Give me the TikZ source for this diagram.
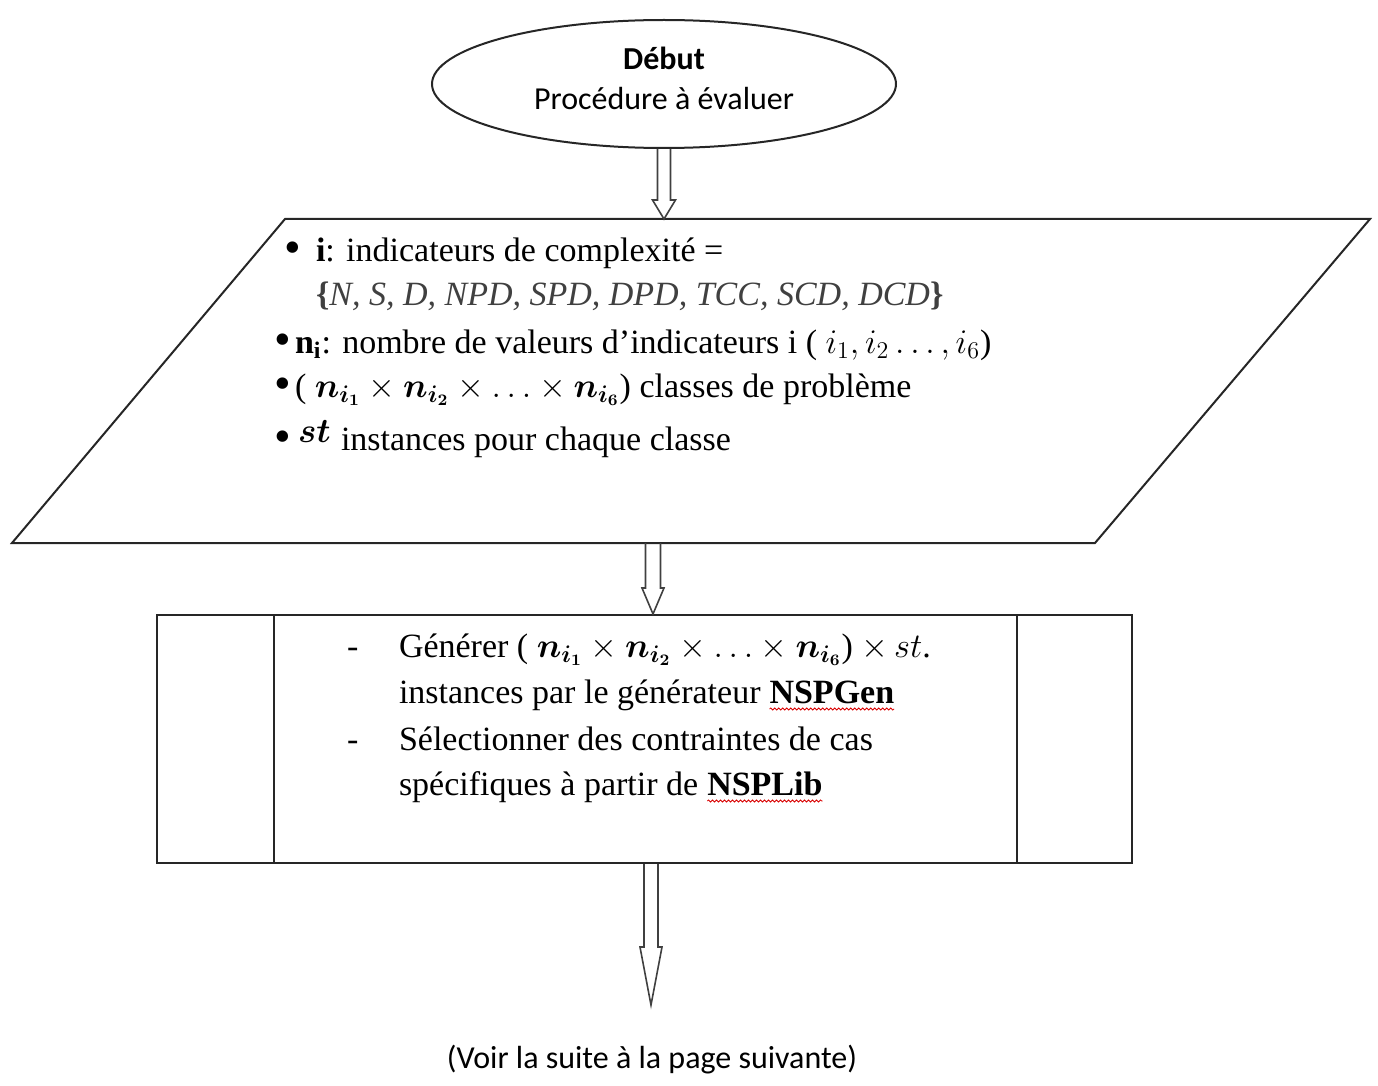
\documentclass[tikz,border=0pt]{standalone}
\usepackage{amsmath,bm}
\usepackage{fontspec}
\setmainfont{Liberation Serif}
\newfontfamily\calib{Carlito}
\usetikzlibrary{shapes.geometric,calc,decorations.pathmorphing}

\newcommand\bodysize{\fontsize{17}{20}\selectfont}
\newcommand\labelsize{\calib\fontsize{16}{19}\selectfont}
\newcommand\bul{{\fontsize{21}{20}\selectfont\textbf{•}}}

% hollow block arrow: start, tip, shaft half width, head half width, head length
\newcommand\hollowarrow[5]{%
  \draw[blockarrow] ($(#1)+(-#3,0)$) -- ($(#2)+(-#3,-#5)$) -- ($(#2)+(-#4,-#5)$)
    -- (#2) -- ($(#2)+(#4,-#5)$) -- ($(#2)+(#3,-#5)$) -- ($(#1)+(#3,0)$);}

\begin{document}
\begin{tikzpicture}[x=0.5pt,y=-0.5pt,
  outline/.style={draw=black!85, line width=1pt},
  blockarrow/.style={draw=black!75, line width=0.8pt, line join=miter},
  txt/.style={anchor=base west, inner sep=0pt, outer sep=0pt, font=\bodysize},
  spellwave/.style={draw=red!85!black, line width=0.4pt, decorate,
    decoration={snake, amplitude=0.5pt, segment length=2pt}}]
\useasboundingbox (0,0) rectangle (1378,1086);

% start terminal
\node[ellipse, outline, minimum width=232pt, minimum height=64pt, inner sep=0pt] (start) at (664,84) {};
\node[anchor=base, inner sep=0pt, font=\labelsize\bfseries] (debut) at (664,70) {Début};
\node[anchor=base, inner sep=0pt, font=\labelsize] (proc) at (664,110) {Procédure à évaluer};

% input data (parallelogram)
\coordinate (ptl) at (285,219);
\coordinate (ptr) at (1370,219);
\coordinate (pbr) at (1095,543);
\coordinate (pbl) at (12,543);
\draw[outline] (ptl) -- (ptr) -- (pbr) -- (pbl) -- cycle;

\node[txt] (b1) at (285,262) {\bul};
\node[txt] (l1) at (316,262) {\textbf{i}: indicateurs de complexité =};
\node[txt, text=black!75] (l2) at (316,306)
  {\textbf{\{}\textit{N, S, D, NPD, SPD, DPD, TCC, SCD, DCD}\textbf{\}}};
\node[txt] (b3) at (275,353) {\bul};
\node[txt] (l3) at (295,353) {\textbf{n\textsubscript{i}}: nombre de valeurs d’indicateurs i ( $i_1, i_2 \ldots, i_6$)};
\node[txt] (b4) at (275,397) {\bul};
\node[txt] (l4) at (295,397) {( $\bm{n_{i_1}} \times \bm{n_{i_2}} \times \ldots \times \bm{n_{i_6}}$) classes de problème};
\node[txt] (b5) at (275,450) {\bul};
\node[txt] (st1) at (298,442) {$\bm{st}$};
\node[txt] (l5) at (341,450) {instances pour chaque classe};

% process box
\node[rectangle, outline, minimum width=487.5pt, minimum height=124pt, inner sep=0pt] (box) at (644.5,739) {};
\draw[outline] ($(box.north west)+(118,0)$) -- ($(box.south west)+(118,0)$);
\draw[outline] ($(box.north east)+(-116,0)$) -- ($(box.south east)+(-116,0)$);

\node[txt] (d1) at (347,657) {-};
\node[txt] (g1) at (399,657) {Générer ( $\bm{n_{i_1}} \times \bm{n_{i_2}} \times \ldots \times \bm{n_{i_6}}$) $\times\, st$.};
\node[txt] (g2) at (399,703) {instances par le générateur};
\node[txt] (gen) at ($(g2.base east)+(9,0)$) {\textbf{NSPGen}};
\node[txt] (d2) at (347,750) {-};
\node[txt] (g3) at (399,750) {Sélectionner des contraintes de cas};
\node[txt] (g4) at (399,795) {spécifiques à partir de};
\node[txt] (lib) at ($(g4.base east)+(9,0)$) {\textbf{NSPLib}};
\draw[spellwave] ($(gen.base west)+(0,6)$) -- ($(gen.base east)+(0,6)$);
\draw[spellwave] ($(lib.base west)+(0,6)$) -- ($(lib.base east)+(0,6)$);

% continuation note
\node[anchor=base, inner sep=0pt, font=\labelsize] (suite) at (652,1068) {(Voir la suite à la page suivante)};

% connectors
\coordinate (a1end) at (start.south |- ptl);
\hollowarrow{start.south}{a1end}{6.5}{11.5}{19}
\coordinate (a2start) at (653,543);
\coordinate (a2end) at (a2start |- box.north);
\hollowarrow{a2start}{a2end}{7.5}{11}{26}
\coordinate (a3end) at (651,1005);
\coordinate (a3start) at (a3end |- box.south);
\hollowarrow{a3start}{a3end}{7}{11}{58}
\end{tikzpicture}
\end{document}
